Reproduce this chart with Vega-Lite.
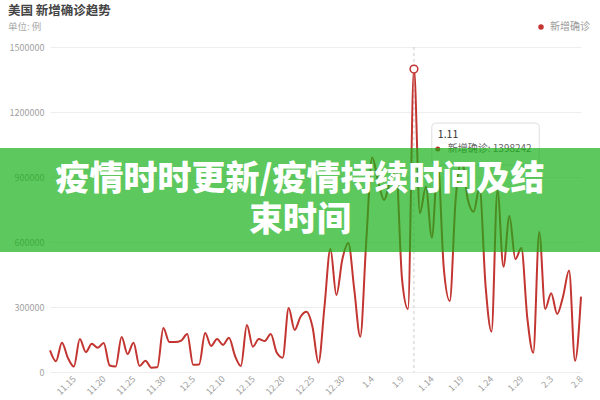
{
  "$schema": "https://vega.github.io/schema/vega-lite/v6.json",
  "width": 531,
  "height": 325,
  "autosize": {"type": "none"},
  "padding": {"left": 50, "top": 47, "right": 19, "bottom": 28},
  "background": "white",
  "config": {"view": {"stroke": null}, "font": "Noto Sans CJK SC"},
  "title": {
    "text": "美国 新增确诊趋势",
    "subtitle": "单位: 例",
    "anchor": "start",
    "frame": "bounds",
    "dx": 8,
    "fontSize": 12.5,
    "fontWeight": "bold",
    "color": "#444444",
    "subtitleFontSize": 9.5,
    "subtitleColor": "#aaaaaa",
    "subtitlePadding": 4,
    "offset": -9,
    "font": "Noto Sans CJK SC",
    "subtitleFont": "Noto Sans CJK SC"
  },
  "layer": [
    {
      "data": {
        "values": [
          {"date": "11.11", "cases": 100000, "series": "新增确诊"},
          {"date": "11.12", "cases": 50000, "series": "新增确诊"},
          {"date": "11.13", "cases": 135000, "series": "新增确诊"},
          {"date": "11.14", "cases": 65000, "series": "新增确诊"},
          {"date": "11.15", "cases": 25000, "series": "新增确诊"},
          {"date": "11.16", "cases": 152000, "series": "新增确诊"},
          {"date": "11.17", "cases": 92000, "series": "新增确诊"},
          {"date": "11.18", "cases": 130000, "series": "新增确诊"},
          {"date": "11.19", "cases": 112000, "series": "新增确诊"},
          {"date": "11.20", "cases": 134000, "series": "新增确诊"},
          {"date": "11.21", "cases": 30000, "series": "新增确诊"},
          {"date": "11.22", "cases": 25000, "series": "新增确诊"},
          {"date": "11.23", "cases": 161000, "series": "新增确诊"},
          {"date": "11.24", "cases": 83000, "series": "新增确诊"},
          {"date": "11.25", "cases": 135000, "series": "新增确诊"},
          {"date": "11.26", "cases": 28000, "series": "新增确诊"},
          {"date": "11.27", "cases": 52000, "series": "新增确诊"},
          {"date": "11.28", "cases": 20000, "series": "新增确诊"},
          {"date": "11.29", "cases": 22000, "series": "新增确诊"},
          {"date": "11.30", "cases": 203000, "series": "新增确诊"},
          {"date": "12.1", "cases": 138000, "series": "新增确诊"},
          {"date": "12.2", "cases": 138000, "series": "新增确诊"},
          {"date": "12.3", "cases": 145000, "series": "新增确诊"},
          {"date": "12.4", "cases": 175000, "series": "新增确诊"},
          {"date": "12.5", "cases": 33000, "series": "新增确诊"},
          {"date": "12.6", "cases": 35000, "series": "新增确诊"},
          {"date": "12.7", "cases": 180000, "series": "新增确诊"},
          {"date": "12.8", "cases": 120000, "series": "新增确诊"},
          {"date": "12.9", "cases": 152000, "series": "新增确诊"},
          {"date": "12.10", "cases": 125000, "series": "新增确诊"},
          {"date": "12.11", "cases": 158000, "series": "新增确诊"},
          {"date": "12.12", "cases": 75000, "series": "新增确诊"},
          {"date": "12.13", "cases": 28000, "series": "新增确诊"},
          {"date": "12.14", "cases": 217000, "series": "新增确诊"},
          {"date": "12.15", "cases": 117000, "series": "新增确诊"},
          {"date": "12.16", "cases": 152000, "series": "新增确诊"},
          {"date": "12.17", "cases": 143000, "series": "新增确诊"},
          {"date": "12.18", "cases": 175000, "series": "新增确诊"},
          {"date": "12.19", "cases": 90000, "series": "新增确诊"},
          {"date": "12.20", "cases": 66000, "series": "新增确诊"},
          {"date": "12.21", "cases": 295000, "series": "新增确诊"},
          {"date": "12.22", "cases": 194000, "series": "新增确诊"},
          {"date": "12.23", "cases": 255000, "series": "新增确诊"},
          {"date": "12.24", "cases": 278000, "series": "新增确诊"},
          {"date": "12.25", "cases": 208000, "series": "新增确诊"},
          {"date": "12.26", "cases": 43000, "series": "新增确诊"},
          {"date": "12.27", "cases": 300000, "series": "新增确诊"},
          {"date": "12.28", "cases": 568000, "series": "新增确诊"},
          {"date": "12.29", "cases": 355000, "series": "新增确诊"},
          {"date": "12.30", "cases": 520000, "series": "新增确诊"},
          {"date": "12.31", "cases": 595000, "series": "新增确诊"},
          {"date": "1.1", "cases": 380000, "series": "新增确诊"},
          {"date": "1.2", "cases": 163000, "series": "新增确诊"},
          {"date": "1.3", "cases": 600000, "series": "新增确诊"},
          {"date": "1.4", "cases": 990000, "series": "新增确诊"},
          {"date": "1.5", "cases": 880000, "series": "新增确诊"},
          {"date": "1.6", "cases": 794000, "series": "新增确诊"},
          {"date": "1.7", "cases": 880000, "series": "新增确诊"},
          {"date": "1.8", "cases": 932000, "series": "新增确诊"},
          {"date": "1.9", "cases": 430000, "series": "新增确诊"},
          {"date": "1.10", "cases": 291000, "series": "新增确诊"},
          {"date": "1.11", "cases": 1398242, "series": "新增确诊"},
          {"date": "1.12", "cases": 733000, "series": "新增确诊"},
          {"date": "1.13", "cases": 855000, "series": "新增确诊"},
          {"date": "1.14", "cases": 620000, "series": "新增确诊"},
          {"date": "1.15", "cases": 960000, "series": "新增确诊"},
          {"date": "1.16", "cases": 480000, "series": "新增确诊"},
          {"date": "1.17", "cases": 328000, "series": "新增确诊"},
          {"date": "1.18", "cases": 800000, "series": "新增确诊"},
          {"date": "1.19", "cases": 980000, "series": "新增确诊"},
          {"date": "1.20", "cases": 800000, "series": "新增确诊"},
          {"date": "1.21", "cases": 740000, "series": "新增确诊"},
          {"date": "1.22", "cases": 850000, "series": "新增确诊"},
          {"date": "1.23", "cases": 400000, "series": "新增确诊"},
          {"date": "1.24", "cases": 186000, "series": "新增确诊"},
          {"date": "1.25", "cases": 840000, "series": "新增确诊"},
          {"date": "1.26", "cases": 486000, "series": "新增确诊"},
          {"date": "1.27", "cases": 720000, "series": "新增确诊"},
          {"date": "1.28", "cases": 521000, "series": "新增确诊"},
          {"date": "1.29", "cases": 572000, "series": "新增确诊"},
          {"date": "1.30", "cases": 250000, "series": "新增确诊"},
          {"date": "1.31", "cases": 89000, "series": "新增确诊"},
          {"date": "2.1", "cases": 646000, "series": "新增确诊"},
          {"date": "2.2", "cases": 291000, "series": "新增确诊"},
          {"date": "2.3", "cases": 364000, "series": "新增确诊"},
          {"date": "2.4", "cases": 268000, "series": "新增确诊"},
          {"date": "2.5", "cases": 350000, "series": "新增确诊"},
          {"date": "2.6", "cases": 468000, "series": "新增确诊"},
          {"date": "2.7", "cases": 52000, "series": "新增确诊"},
          {"date": "2.8", "cases": 348000, "series": "新增确诊"}
        ]
      },
      "layer": [
        {
          "data": {"values": [{}]},
          "mark": {"type": "rule", "strokeDash": [3, 3], "color": "#cccccc", "strokeWidth": 1},
          "encoding": {
            "x": {"datum": "1.11", "type": "ordinal"}
          }
        },
        {
          "mark": {"type": "line", "interpolate": "monotone", "strokeWidth": 2},
          "encoding": {
            "x": {
              "field": "date",
              "type": "ordinal",
              "sort": null,
              "scale": {
                "type": "point",
                "padding": 0,
                "domain": ["11.11","11.12","11.13","11.14","11.15","11.16","11.17","11.18","11.19","11.20","11.21","11.22","11.23","11.24","11.25","11.26","11.27","11.28","11.29","11.30","12.1","12.2","12.3","12.4","12.5","12.6","12.7","12.8","12.9","12.10","12.11","12.12","12.13","12.14","12.15","12.16","12.17","12.18","12.19","12.20","12.21","12.22","12.23","12.24","12.25","12.26","12.27","12.28","12.29","12.30","12.31","1.1","1.2","1.3","1.4","1.5","1.6","1.7","1.8","1.9","1.10","1.11","1.12","1.13","1.14","1.15","1.16","1.17","1.18","1.19","1.20","1.21","1.22","1.23","1.24","1.25","1.26","1.27","1.28","1.29","1.30","1.31","2.1","2.2","2.3","2.4","2.5","2.6","2.7","2.8"]
              },
              "axis": {
                "title": null,
                "values": ["11.15","11.20","11.25","11.30","12.5","12.10","12.15","12.20","12.25","12.30","1.4","1.9","1.14","1.19","1.24","1.29","2.3","2.8"],
                "labelAngle": -45,
                "labelFontSize": 9,
                "labelColor": "#a0a0a0",
                "labelPadding": 5,
                "ticks": false,
                "domain": false,
                "grid": false
              }
            },
            "y": {
              "field": "cases",
              "type": "quantitative",
              "scale": {"domain": [0, 1500000], "nice": false},
              "axis": {
                "title": null,
                "values": [0, 300000, 600000, 900000, 1200000, 1500000],
                "format": "d",
                "labelFontSize": 9,
                "labelColor": "#a0a0a0",
                "labelPadding": 6,
                "ticks": false,
                "domain": false,
                "grid": true,
                "gridColor": "#eeeeee"
              }
            },
            "color": {
              "field": "series",
              "type": "nominal",
              "scale": {"range": ["#c23531"]},
              "legend": {
                "orient": "none",
                "legendX": 486,
                "legendY": -25,
                "title": null,
                "symbolType": "circle",
                "symbolSize": 30,
                "symbolStrokeWidth": 0,
                "labelFontSize": 10,
                "labelColor": "#999999",
                "labelOffset": 4,
                "encode": {"symbols": {"update": {"fill": {"value": "#c23531"}, "strokeWidth": {"value": 0}}}}
              }
            }
          }
        },
        {
          "data": {"values": [{}]},
          "mark": {"type": "circle", "fill": "white", "stroke": "#c23531", "strokeWidth": 1.5, "opacity": 1, "size": 60},
          "encoding": {
            "x": {"datum": "1.11", "type": "ordinal"},
            "y": {"datum": 1398242, "type": "quantitative"}
          }
        },
        {
          "data": {"values": [{}]},
          "mark": {"type": "rect", "fill": "white", "stroke": "#dddddd", "strokeWidth": 1, "cornerRadius": 4},
          "encoding": {
            "x": {"datum": "1.14", "type": "ordinal"},
            "x2": {"datum": "2.1"},
            "y": {"datum": 1149000, "type": "quantitative"},
            "y2": {"datum": 955000}
          }
        },
        {
          "data": {"values": [{}]},
          "mark": {"type": "text", "text": "1.11", "align": "left", "baseline": "middle", "fontSize": 10.5, "color": "#333333"},
          "encoding": {
            "x": {"datum": "1.15", "type": "ordinal"},
            "y": {"datum": 1094000, "type": "quantitative"}
          }
        },
        {
          "data": {"values": [{}]},
          "mark": {"type": "circle", "color": "#c23531", "opacity": 1, "size": 25},
          "encoding": {
            "x": {"datum": "1.15", "type": "ordinal"},
            "y": {"datum": 1029000, "type": "quantitative"}
          }
        },
        {
          "data": {"values": [{}]},
          "mark": {"type": "text", "text": "新增确诊: 1398242", "align": "left", "baseline": "middle", "dx": 4, "fontSize": 10, "color": "#666666"},
          "encoding": {
            "x": {"datum": "1.16", "type": "ordinal"},
            "y": {"datum": 1029000, "type": "quantitative"}
          }
        }
      ]
    },
    {
      "data": {"values": [{}]},
      "layer": [
        {
          "mark": {"type": "rect", "fill": "#18b018", "opacity": 0.7},
          "encoding": {
            "x": {"datum": -50, "type": "quantitative", "scale": {"domain": [0, 531], "nice": false, "zero": false}, "axis": null},
            "x2": {"datum": 550},
            "y": {"datum": 1033800, "type": "quantitative"},
            "y2": {"datum": 553800}
          }
        },
        {
          "mark": {"type": "text", "text": "疫情时时更新/疫情持续时间及结", "align": "center", "baseline": "middle", "fontSize": 34, "fontWeight": 900, "color": "white", "font": "Noto Sans CJK SC"},
          "encoding": {
            "x": {"datum": 250, "type": "quantitative"},
            "y": {"datum": 886000, "type": "quantitative"}
          }
        },
        {
          "mark": {"type": "text", "text": "束时间", "align": "center", "baseline": "middle", "fontSize": 34, "fontWeight": 900, "color": "white", "font": "Noto Sans CJK SC"},
          "encoding": {
            "x": {"datum": 250, "type": "quantitative"},
            "y": {"datum": 697000, "type": "quantitative"}
          }
        }
      ]
    }
  ],
  "resolve": {"scale": {"x": "independent"}}
}
